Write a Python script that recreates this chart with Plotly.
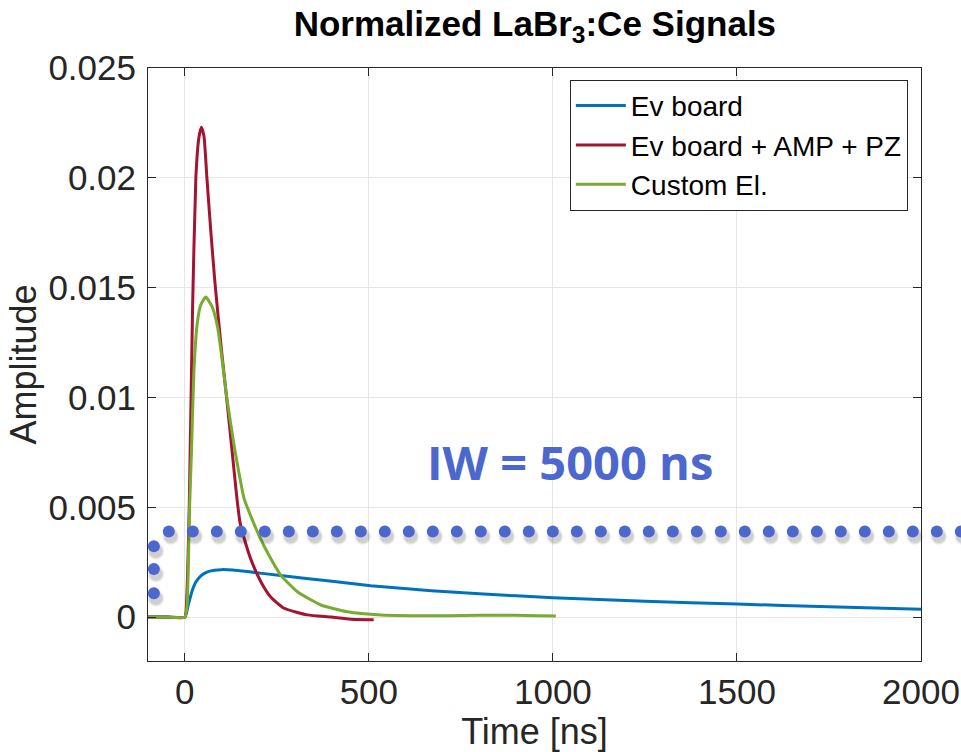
import numpy as np
import plotly.graph_objects as go

# ---------------- data ----------------
ev_t = [-100, -50, 0, 10, 20, 30, 45, 60, 80, 100, 130, 170, 260, 400, 505, 670, 800,
        1000, 1250, 1500, 1750, 2000]
ev_v = [0, 0, 0, 0.0006, 0.0012, 0.0016, 0.0019, 0.00205, 0.00213, 0.00216, 0.00214,
        0.00207, 0.00189, 0.00163, 0.00143, 0.0012, 0.00106, 0.00088, 0.00072, 0.00059,
        0.00047, 0.00036]

amp_t = [-100, -50, 0, 5, 12, 21, 30, 38, 45, 52, 60, 70, 82, 100, 116, 130, 141, 150,
         161, 179, 207, 234, 270, 333, 397, 450, 513]
amp_v = [0, 0, 0, 0.0008, 0.005, 0.014, 0.0200, 0.0218, 0.0223, 0.0219, 0.0200, 0.0177,
         0.0152, 0.0121, 0.0096, 0.0073, 0.0055, 0.0043, 0.0036, 0.00265, 0.0016, 0.0009,
         0.0004, 0.0001, 0.0, -0.0001, -0.00012]

cus_t = [-100, -50, 0, 6, 13, 18, 25, 34, 43, 57, 75, 89, 100, 114, 134, 150, 161, 184,
         202, 229, 261, 306, 370, 442, 533, 620, 714, 800, 895, 960, 1008]
cus_v = [0, 0, 0, 0.0005, 0.005, 0.0075, 0.0113, 0.0134, 0.0142, 0.01457, 0.0141, 0.0132,
         0.0119, 0.0100, 0.0078, 0.0063, 0.0054, 0.0044, 0.0037, 0.0028, 0.0019, 0.00115,
         0.00055, 0.00024, 0.00009, 0.00006, 0.00006, 0.00008, 0.00008, 0.00006, 0.00005]

series_names = ["Ev board", "Ev board + AMP + PZ", "Custom El."]
series_colors = ["#0072BD", "#A2142F", "#77AC30"]

x_range = [-100, 2000]
y_range = [-0.002, 0.025]
x_ticks = [0, 500, 1000, 1500, 2000]
x_ticktext = ["0", "500", "1000", "1500", "2000"]
y_ticks = [0, 0.005, 0.01, 0.015, 0.02, 0.025]
y_ticktext = ["0", "0.005", "0.01", "0.015", "0.02", "0.025"]

# IW annotation (dotted marker row)
iw_level = 0.0039
iw_start = -43.5
iw_step = 65.2
iw_end = 2200
iw_left_x = -84
iw_left_y = [0.00109, 0.00219, 0.00323]
iw_label = "IW = 5000 ns"
iw_color = "#4C67CE"

# ---------------- figure ----------------
fig = go.Figure()
for t, v, name, col in zip([ev_t, amp_t, cus_t], [ev_v, amp_v, cus_v],
                           series_names, series_colors):
    fig.add_trace(go.Scatter(x=t, y=v, mode="lines", name=name,
                             line=dict(color=col, width=3, shape="spline", smoothing=0.5)))

row_x = list(np.arange(iw_start, iw_end, iw_step))
dots_x = row_x + [iw_left_x] * len(iw_left_y)
dots_y = [iw_level] * len(row_x) + iw_left_y


def to_paper(x, y):
    return ((x - x_range[0]) / (x_range[1] - x_range[0]),
            (y - y_range[0]) / (y_range[1] - y_range[0]))


shapes = []
# soft shadow layers (pixel offsets), then the dot itself
layers = [(2, -5, 8.5, "rgba(40,40,40,0.06)"), (2, -5, 7.5, "rgba(40,40,40,0.08)"),
          (2, -5, 6.5, "rgba(40,40,40,0.10)"), (0, 0, 6, iw_color)]
for dx, dy, r, col in layers:
    for x, y in zip(dots_x, dots_y):
        px, py = to_paper(x, y)
        shapes.append(dict(type="circle", xref="paper", yref="paper",
                           xsizemode="pixel", ysizemode="pixel",
                           xanchor=px, yanchor=py,
                           x0=dx - r, x1=dx + r, y0=dy - r, y1=dy + r,
                           fillcolor=col, line=dict(width=0), layer="above"))

fig.add_annotation(x=1046, y=0.00705, xref="x", yref="y", text=f"<b>{iw_label}</b>",
                   showarrow=False, font=dict(family="Open Sans", size=47, color=iw_color))

axis_font = dict(family="Liberation Sans, Arial", size=35, color="#262626")
fig.update_layout(
    width=961, height=752,
    margin=dict(l=148, r=40, t=68, b=91),
    paper_bgcolor="white", plot_bgcolor="white",
    shapes=shapes,
    title=dict(text="<b>Normalized LaBr<sub>3</sub>:Ce Signals</b>", x=0.5566, xanchor="center",
               y=0.969, yanchor="middle",
               font=dict(family="Liberation Sans, Arial", size=35, color="black")),
    legend=dict(x=0.983, xanchor="right", y=0.98, yanchor="top",
                bgcolor="white", bordercolor="#262626", borderwidth=1,
                font=dict(family="Liberation Sans, Arial", size=28, color="black"),
                itemwidth=50, tracegroupgap=0),
    font=axis_font,
)
fig.update_xaxes(range=x_range, tickvals=x_ticks, ticktext=x_ticktext,
                 showgrid=True, gridcolor="#E6E6E6", gridwidth=1, zeroline=False,
                 showline=True, linecolor="#262626", linewidth=1, mirror="ticks",
                 ticks="inside", ticklen=8, tickcolor="#262626", automargin=False,
                 title=dict(text="Time [ns]", font=dict(size=36), standoff=2),
                 tickfont=axis_font)
fig.update_yaxes(range=y_range, tickvals=y_ticks, ticktext=y_ticktext,
                 showgrid=True, gridcolor="#E6E6E6", gridwidth=1, zeroline=False,
                 showline=True, linecolor="#262626", linewidth=1, mirror="ticks",
                 ticks="inside", ticklen=8, tickcolor="#262626", automargin=False,
                 ticklabelstandoff=4,
                 title=dict(text="Amplitude", font=dict(size=36), standoff=0),
                 tickfont=axis_font)

fig.write_html("out.html")
